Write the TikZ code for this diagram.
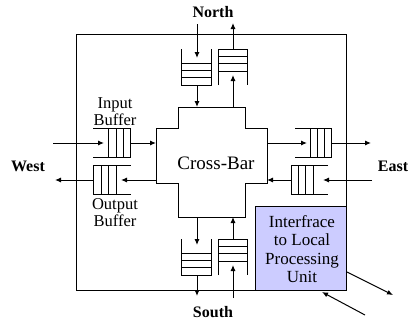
\documentclass[tikz,border=0pt]{standalone}
\usepackage{fontspec}
\setmainfont{Liberation Serif}
\usetikzlibrary{arrows.meta}
\definecolor{lav}{RGB}{204,204,255}
\tikzset{
  ln/.style={line width=0.9pt},
  arr/.style={line width=1pt,-{Latex[length=6pt,width=5pt]}},
  lbl/.style={font=\fontsize{16}{17}\selectfont\bfseries,inner sep=0pt},
  txt/.style={font=\fontsize{16.5}{17}\selectfont,align=center,inner sep=0pt},
}
\begin{document}
\begin{tikzpicture}[x=1pt,y=-1pt]
\useasboundingbox (0,0) rectangle (410,322);
% outer router box
\node[draw,ln,minimum width=270pt,minimum height=256pt,inner sep=0pt] (router) at (211,162) {};
% interface
\node[draw,ln,fill=lav,minimum width=91pt,minimum height=84pt,inner sep=0pt] (iface) at (300.5,248) {};
\node[font=\fontsize{17}{18.6}\selectfont,align=center,inner sep=0pt] (ifacetxt) at (302,249) {Interfrace\\to Local\\Processing\\Unit};
% cross-bar
\draw[ln] (178,107) -- (245,107) -- (245,128) -- (267,128) -- (267,183) -- (245,183) -- (245,217)
  -- (178,217) -- (178,183) -- (156,183) -- (156,128) -- (178,128) -- cycle;
\node[font=\fontsize{19}{20}\selectfont,inner sep=0pt] (cb) at (216,163) {Cross-Bar};
\coordinate (cbNa) at (197,107); \coordinate (cbNb) at (233,107);
\coordinate (cbSa) at (197,217); \coordinate (cbSb) at (233,217);
\coordinate (cbWa) at (156,143); \coordinate (cbWb) at (156,180);
\coordinate (cbEa) at (267,143); \coordinate (cbEb) at (267,180);
% North buffers
\draw[ln] (181.7,49) -- (181.7,85) -- (211.3,85) -- (211.3,49);
\foreach \y in {63,70.33,77.67} \draw[ln] (181.7,\y) -- (211.3,\y);
\draw[ln] (218,85) -- (218,49) -- (247.7,49) -- (247.7,85);
\foreach \y in {56.33,63.67,71} \draw[ln] (218,\y) -- (247.7,\y);
% South buffers
\draw[ln] (181.7,239) -- (181.7,275) -- (211.3,275) -- (211.3,239);
\foreach \y in {253,260.33,267.67} \draw[ln] (181.7,\y) -- (211.3,\y);
\draw[ln] (218,275) -- (218,239) -- (247.7,239) -- (247.7,275);
\foreach \y in {246.33,253.67,261} \draw[ln] (218,\y) -- (247.7,\y);
% West buffers
\draw[ln] (93,128) -- (130.7,128) -- (130.7,157.5) -- (93,157.5);
\foreach \x in {108.7,116,123.3} \draw[ln] (\x,128) -- (\x,157.5);
\draw[ln] (130.7,165) -- (93.5,165) -- (93.5,194) -- (130.7,194);
\foreach \x in {101,108.5,116} \draw[ln] (\x,165) -- (\x,194);
% East buffers
\draw[ln] (295,128) -- (331.7,128) -- (331.7,157.5) -- (295,157.5);
\foreach \x in {310,317.3,324.7} \draw[ln] (\x,128) -- (\x,157.5);
\draw[ln] (328,165) -- (291,165) -- (291,194) -- (328,194);
\foreach \x in {298.3,305.7,313} \draw[ln] (\x,165) -- (\x,194);
% buffer ports
\coordinate (niT) at (197,58);  \coordinate (niB) at (197,85);
\coordinate (noT) at (233,49);  \coordinate (noB) at (233,75);
\coordinate (soT) at (197,245); \coordinate (soB) at (197,275);
\coordinate (siT) at (233,239); \coordinate (siB) at (233,265);
\coordinate (wiL) at (104,143); \coordinate (wiR) at (130.7,143);
\coordinate (woL) at (93.5,180); \coordinate (woR) at (121,180);
\coordinate (eoL) at (307,143); \coordinate (eoR) at (331.7,143);
\coordinate (eiL) at (291,180); \coordinate (eiR) at (323,180);
% external ends
\coordinate (nIn) at (197,24);  \coordinate (nOut) at (233,23);
\coordinate (sOut) at (197,296); \coordinate (sIn) at (233,298);
\coordinate (wIn) at (53,143);  \coordinate (wOut) at (55,180);
\coordinate (eOut) at (371,143); \coordinate (eIn) at (372,180);
\coordinate (ifOutS) at (347,272); \coordinate (ifOutE) at (393,295);
\coordinate (ifInS) at (365,315); \coordinate (ifInE) at (322,292);
% arrows
\draw[arr] (nIn) -- (niT);  \draw[arr] (niB) -- (cbNa);
\draw[arr] (cbNb) -- (noB); \draw[arr] (noT) -- (nOut);
\draw[arr] (cbSa) -- (soT); \draw[arr] (soB) -- (sOut);
\draw[arr] (sIn) -- (siB);  \draw[arr] (siT) -- (cbSb);
\draw[arr] (wIn) -- (wiL);  \draw[arr] (wiR) -- (cbWa);
\draw[arr] (cbWb) -- (woR); \draw[arr] (woL) -- (wOut);
\draw[arr] (cbEa) -- (eoL); \draw[arr] (eoR) -- (eOut);
\draw[arr] (eIn) -- (eiR);  \draw[arr] (eiL) -- (cbEb);
\draw[arr] (ifOutS) -- (ifOutE);
\draw[arr] (ifInS) -- (ifInE);
% labels
\node[lbl] (north) at (213,12) {North};
\node[lbl] (south) at (213,312) {South};
\node[lbl] (west) at (28,166) {West};
\node[lbl] (east) at (393,166) {East};
\node[txt] (inbuf) at (115,111.5) {Input\\Buffer};
\node[txt] (outbuf) at (115,213) {Output\\Buffer};
\end{tikzpicture}
\end{document}
